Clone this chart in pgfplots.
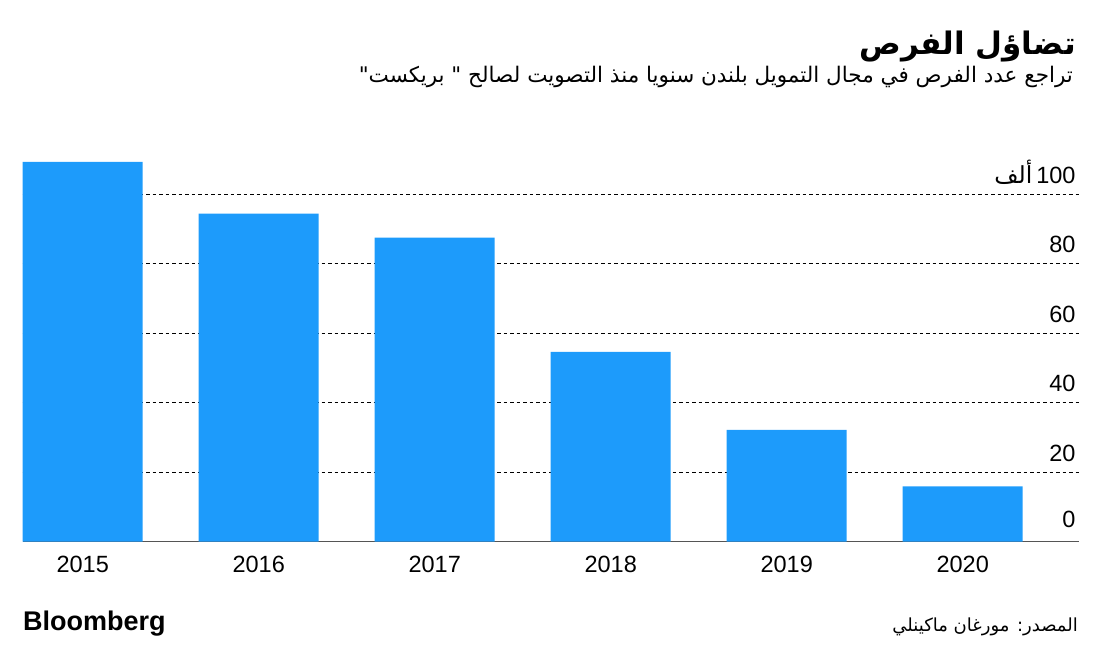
\documentclass[border=0pt]{standalone}
\usepackage{pgfplots}
\pgfplotsset{compat=1.18}
\usepackage{fontspec}
\setmainfont{Liberation Sans}
\newfontfamily\arabicfont[Script=Arabic]{DejaVu Sans}
\TeXXeTstate=1
\definecolor{barblue}{HTML}{1D9BFB}
\definecolor{baseg}{HTML}{555555}
\begin{document}
\begin{tikzpicture}[x=1pt,y=1pt]
\useasboundingbox (0,0) rectangle (1101,654);
\begin{axis}[
  at={(22.7pt,112.3pt)}, anchor=south west,
  scale only axis, width=1056.3pt, height=389.2pt,
  xmin=-0.341, xmax=5.661, ymin=0, ymax=112,
  axis x line*=bottom, axis y line*=right,
  x axis line style={draw=baseg, line width=1.3pt, -},
  y axis line style={draw=none},
  major tick length=0pt,
  xtick=data, xticklabels={2015,2016,2017,2018,2019,2020},
  xticklabel style={anchor=base, yshift=-31pt, font=\fontsize{23.5}{24}\selectfont},
  ytick={20,40,60,80,100},
  yticklabels={20,40,60,80,{{\arabicfont ألف}\,100}},
  extra y ticks={0}, extra y tick labels={0},
  extra y tick style={grid=none, yticklabel style={yshift=3pt}},
  yticklabel pos=right,
  yticklabel style={anchor=base east, xshift=0pt, yshift=11pt, font=\fontsize{23.5}{24}\selectfont},
  /pgf/number format/assume math mode=true,
  ymajorgrids,
  major grid style={black, line width=1pt, dash pattern=on 3.5pt off 3pt},
  ybar, bar width=120pt, bar shift=0pt,
  clip=false,
]
\addplot[fill=barblue, draw=none] coordinates {(0,109.3) (1,94.4) (2,87.5) (3,54.6) (4,32.2) (5,15.9)};
\end{axis}
\node[anchor=base east, inner sep=0pt] at (1076,599) {\arabicfont\bfseries\fontsize{31}{36}\selectfont\beginR تضاؤل الفرص\endR};
\node[anchor=base east, inner sep=0pt] at (1073,571) {\arabicfont\fontsize{21.5}{25}\selectfont\beginR تراجع عدد الفرص في مجال التمويل بلندن سنويا منذ التصويت لصالح " بريكست"\endR};
\node[anchor=base west, inner sep=0pt] at (23,24) {\bfseries\fontsize{27}{28}\selectfont Bloomberg};
\node[anchor=base east, inner sep=0pt] at (1078,22.3) {\arabicfont\fontsize{18}{22}\selectfont\beginR المصدر: مورغان ماكينلي\endR};
\end{tikzpicture}
\end{document}
